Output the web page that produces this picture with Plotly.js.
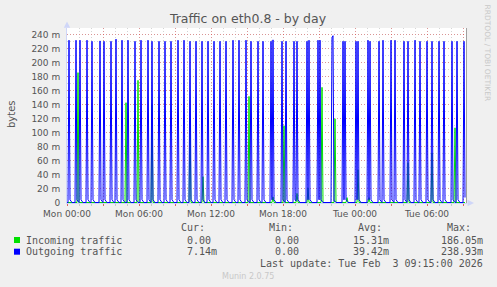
<!DOCTYPE html>
<html>
<head>
<meta charset="utf-8">
<script src="https://cdn.plot.ly/plotly-3.0.1.min.js"></script>
<style>html,body{margin:0;padding:0;background:#F0F0F0;}#chart{width:497px;height:287px;}</style>
</head>
<body>
<div id="chart"></div>
<script>
// ---- data (values in "m" units, times = minutes after Mon 00:00, 5-minute samples) ----
const blueSpikeMin = [10,45,65,100,125,165,185,220,245,275,305,340,370,405,425,460,490,520,555,585,615,645,
  675,705,735,765,795,830,860,895,920,955,980,1020,1030,1075,1095,1135,1150,1200,1210,1255,1265,1325,1330,
  1380,1390,1445,1455,1505,1515,1560,1580,1620,1640,1685,1705,1740,1765,1800,1825,1860,1885,1925,1950,1985];
const blueSpikeVal = [232.5,232.5,232.5,232.5,231,231.5,231,231,234,232.5,232.5,231,232.5,232.5,231,231,231,231,232.5,232.5,231,231,
  231,231,231,231,231,232.5,232.5,232.5,231,231,231,231,233,231,231,231,231,231,232.5,232.5,232.5,236,238.93,
  231,231,231,231,232.5,231,231,232.5,232.5,232.5,231,231,232.5,231,231,231,231,231,231,231,231];
const blueTailVal = [4, 2];          // small hump after each spike
const blueLastMin = 1990, blueLastVal = 7.14;
const greenSpikeMin = [55,295,355,425,615,680,910,1030,1085,1150,1205,1275,1340,1400,1455,1510,1705,1825,1940];
const greenSpikeVal = [186.05,143,175,140,120,37,152,8,110,13,21,165,120,7,47,7,57,71,107];

const yTickVals = [0,20,40,60,80,100,120,140,160,180,200,220,240];
const yTickText = ['0','20 m','40 m','60 m','80 m','100 m','120 m','140 m','160 m','180 m','200 m','220 m','240 m'];
const xTickMin = [0,180,360,540,720,900,1080,1260,1440,1620,1800,1980];
const xTickText = ['Mon 00:00','','Mon 06:00','','Mon 12:00','','Mon 18:00','','Tue 00:00','','Tue 06:00',''];

const legendNames = ['Incoming traffic','Outgoing traffic'];
const legendColors = ['#00E000','#0000FF'];
const curVals = ['0.00\u00a0','7.14m'];
const minVals = ['0.00\u00a0','0.00\u00a0'];
const avgVals = ['15.31m','39.42m'];
const maxVals = ['186.05m','238.93m'];
const lastUpdate = 'Last update: Tue Feb\u00a0\u00a03 09:15:00 2026';

// ---- helpers ----
const START = Date.UTC(2026,1,2,0,0,0);
function fmt(min){ return new Date(START+min*60000).toISOString().slice(0,16).replace('T',' '); }
const L=67, R=467, T=28, B=203;
function px(x){ return (x-L)/(R-L); }
function py(y){ return (B-y)/(B-T); }

function buildSeries(spMin, spVal, tail){
  const n = blueLastMin/5 + 1;
  const v = new Array(n).fill(0);
  spMin.forEach((m,i)=>{ v[m/5] = spVal[i]; });
  if (tail) {
    spMin.forEach(m=>{ tail.forEach((tv,k)=>{ const j=m/5+1+k; if(j<n && v[j]===0 && !spMin.includes(j*5)) v[j]=tv; }); });
  }
  const x = v.map((_,i)=>fmt(i*5));
  return {x, v};
}
const g = buildSeries(greenSpikeMin, greenSpikeVal, null);
const b = buildSeries(blueSpikeMin, blueSpikeVal, blueTailVal);
b.v[blueLastMin/5] = blueLastVal;

const traces = [
  {x:g.x, y:g.v, type:'scatter', mode:'lines', line:{color:legendColors[0], width:1}, hoverinfo:'skip', showlegend:false},
  {x:b.x, y:b.v, type:'scatter', mode:'lines', line:{color:legendColors[1], width:1}, hoverinfo:'skip', showlegend:false}
];

const FONT='DejaVu Sans', MONO='DejaVu Sans Mono', FC='#555';
function ann(text, x, y, xanchor, font, extra){
  return Object.assign({text, x:px(x), y:py(y), xref:'paper', yref:'paper', showarrow:false,
    xanchor, yanchor:'middle', borderpad:0, borderwidth:0, font}, extra||{});
}
const mono = {family:MONO, size:10, color:FC};
const annotations = [
  ann('bytes', 11, 114, 'center', {family:FONT, size:10, color:FC}, {textangle:-90}),
  ann('RRDTOOL / TOBI OETIKER', 487.5, 53, 'center', {family:FONT, size:7.5, color:'#C8C8C8'}, {textangle:90}),
  ann('Cur:', 181, 227.7, 'left', mono),
  ann('Min:', 269.3, 227.7, 'left', mono),
  ann('Avg:', 358.3, 227.7, 'left', mono),
  ann('Max:', 446.7, 227.7, 'left', mono),
  ann(lastUpdate, 482.7, 263.5, 'right', mono),
  ann('Munin 2.0.75', 248, 276, 'center', {family:FONT, size:8, color:'#C8C8C8'})
];
const rowY = [240, 251.7];
const shapes = [];
legendNames.forEach((nm,i)=>{
  annotations.push(ann(nm, 26.3, rowY[i], 'left', mono));
  annotations.push(ann(curVals[i], 216.7, rowY[i], 'right', mono));
  annotations.push(ann(minVals[i], 305, rowY[i], 'right', mono));
  annotations.push(ann(avgVals[i], 389.3, rowY[i], 'right', mono));
  annotations.push(ann(maxVals[i], 482.7, rowY[i], 'right', mono));
  shapes.push({type:'rect', xref:'paper', yref:'paper', x0:px(14), x1:px(20), y0:py(rowY[i]-3), y1:py(rowY[i]+3),
    fillcolor:legendColors[i], line:{width:0}});
});
const AX='#CFD6F8';
function path(pts){ return 'M'+pts.map(p=>px(p[0])+','+py(p[1])).join(' L')+' Z'; }
shapes.push({type:'path', xref:'paper', yref:'paper', path:path([[67,21.5],[63.8,27.8],[70.2,27.8]]), fillcolor:AX, line:{width:0}});
shapes.push({type:'path', xref:'paper', yref:'paper', path:path([[474,203],[467.5,199.8],[467.5,206.2]]), fillcolor:AX, line:{width:0}});
shapes.push({type:'line', xref:'paper', yref:'paper', x0:px(466.5), x1:px(466.5), y0:py(28), y1:py(203), line:{color:'#A0A0A0', width:1}});

const MGRID='rgba(230,0,0,0.3)', GRID='#D4D4D4', DASH='1px,2px';
const layout = {
  width:497, height:287,
  margin:{l:L, r:497-R, t:T, b:287-B, pad:0},
  paper_bgcolor:'#F0F0F0', plot_bgcolor:'#FFFFFF',
  title:{text:'Traffic on eth0.8 - by day', font:{family:FONT, size:12.5, color:FC},
    xref:'container', yref:'container', x:248/497, xanchor:'center', y:1-19/287, yanchor:'middle'},
  showlegend:false,
  xaxis:{type:'date', range:[fmt(0), fmt(2000)], tickmode:'array', tickvals:xTickMin.map(fmt), ticktext:xTickText,
    showgrid:true, gridcolor:MGRID, griddash:DASH, gridwidth:1, zeroline:false,
    ticks:'outside', ticklen:2, tickcolor:'rgba(230,0,0,0.5)', tickwidth:1,
    showline:true, linecolor:AX, linewidth:1, layer:'below traces',
    tickfont:{family:FONT, size:9, color:FC}, fixedrange:true,
    minor:{tickmode:'linear', tick0:fmt(0), dtick:3600000, showgrid:true, gridcolor:GRID, griddash:DASH,
      ticks:'outside', ticklen:2, tickcolor:'#C8C8C8'}},
  yaxis:{range:[-0.7,250], tickmode:'array', tickvals:yTickVals, ticktext:yTickText,
    showgrid:true, gridcolor:MGRID, griddash:DASH, gridwidth:1, zeroline:false,
    ticks:'', ticklabelstandoff:4,
    showline:true, linecolor:AX, linewidth:1, layer:'below traces',
    tickfont:{family:FONT, size:9, color:FC}, fixedrange:true,
    minor:{tickmode:'linear', tick0:0, dtick:10, showgrid:true, gridcolor:GRID, griddash:DASH}},
  annotations, shapes
};
Plotly.newPlot('chart', traces, layout, {staticPlot:true, displayModeBar:false});
</script>
</body>
</html>
